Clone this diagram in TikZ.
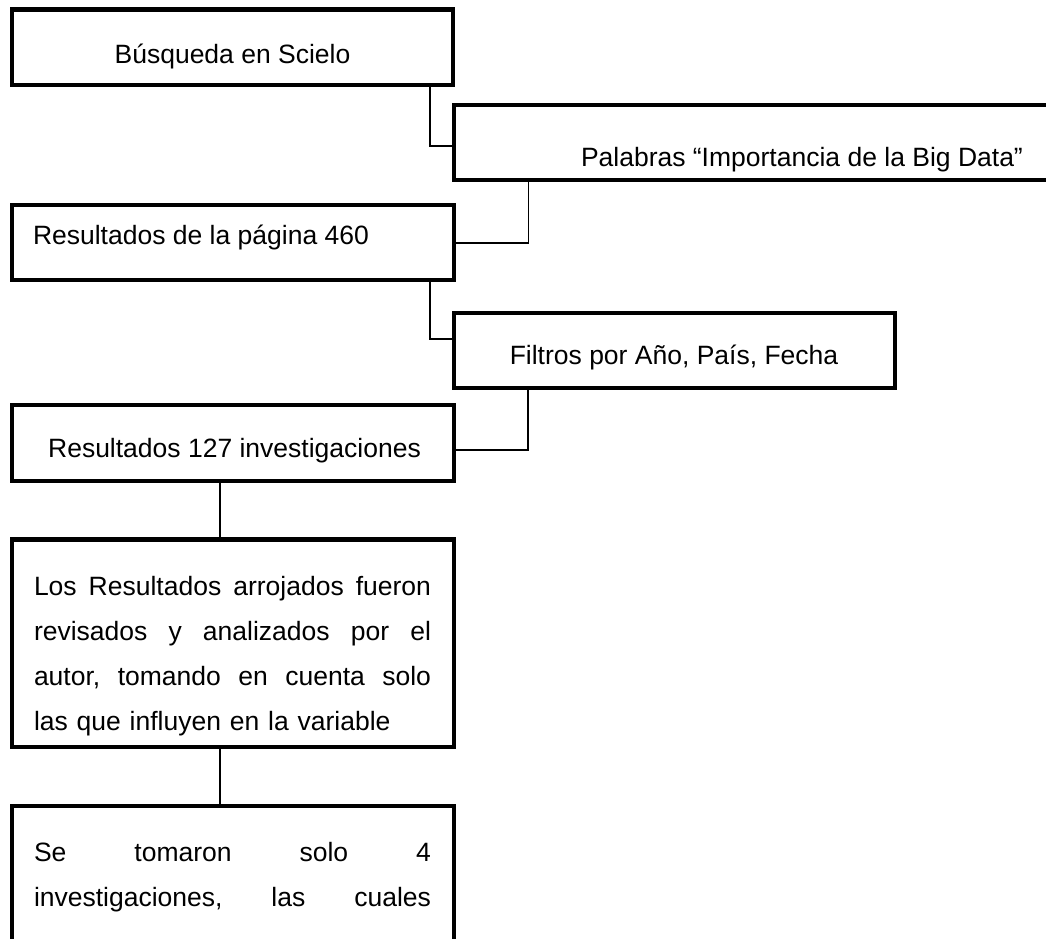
\documentclass[tikz,border=0pt]{standalone}
\usepackage{fontspec}
\setmainfont{Liberation Sans}
\newcommand{\jline}[1]{\leavevmode\hbox to 397pt{#1}}
\begin{document}
\begin{tikzpicture}[x=1pt,y=-1pt,
  box/.style={draw=black, line width=4.5pt, inner sep=0pt, outer sep=0pt},
  conn/.style={draw=black, line width=1.3pt},
  txt/.style={inner sep=0pt, outer sep=0pt, text=black, font=\fontsize{26.5}{45}\selectfont}]
\clip (0,0) rectangle (1046,938);
% boxes
\node[box, minimum width=441pt, minimum height=75.5pt] (b1) at (232.5,47.25) {};
\node[box, minimum width=696pt, minimum height=75pt] (b2) at (802,142.5) {};
\node[box, minimum width=442pt, minimum height=75pt] (b3) at (233,242.5) {};
\node[box, minimum width=441pt, minimum height=75pt] (b4) at (674.5,350.5) {};
\node[box, minimum width=442pt, minimum height=76pt] (b5) at (233,443) {};
\node[box, minimum width=442pt, minimum height=207.5pt] (b6) at (233,643.25) {};
\node[box, minimum width=442pt, minimum height=194pt] (b7) at (233,903) {};
% texts
\node[txt, anchor=base] (t1) at (232.5,63) {Búsqueda en Scielo};
\node[txt, anchor=base west] (t2) at (581,166) {Palabras “Importancia de la Big Data”};
\node[txt, anchor=base west] (t3) at (33,244) {Resultados de la página 460};
\node[txt, anchor=base] (t4) at (674,364) {Filtros por Año, País, Fecha};
\node[txt, anchor=base] (t5) at (234.5,457) {Resultados 127 investigaciones};
\node[txt, anchor=base west, text width=397pt, align=left] (t6) at (34,595)
  {\jline{Los\hfill Resultados\hfill arrojados\hfill fueron}\\
   \jline{revisados\hfill y\hfill analizados\hfill por\hfill el}\\
   \jline{autor,\hfill tomando\hfill en\hfill cuenta\hfill solo}\\
   las que influyen en la variable};
\node[txt, anchor=base west, text width=397pt, align=left] (t7) at (34,861)
  {\jline{Se\hfill tomaron\hfill solo\hfill 4}\\
   \jline{investigaciones,\hfill las\hfill cuales}};
% connectors
\coordinate (j1) at (430,146);
\coordinate (j2) at (528.5,243);
\coordinate (j3) at (430,339);
\coordinate (j4) at (528,450);
\coordinate (j5) at (220,0);
\draw[conn] (b1.south -| j1) |- (b2.west |- j1);
\draw[conn] (b2.south -| j2) |- (b3.east |- j2);
\draw[conn] (b3.south -| j3) |- (b4.west |- j3);
\draw[conn] (b4.south -| j4) |- (b5.east |- j4);
\draw[conn] (b5.south -| j5) -- (b6.north -| j5);
\draw[conn] (b6.south -| j5) -- (b7.north -| j5);
\end{tikzpicture}
\end{document}
